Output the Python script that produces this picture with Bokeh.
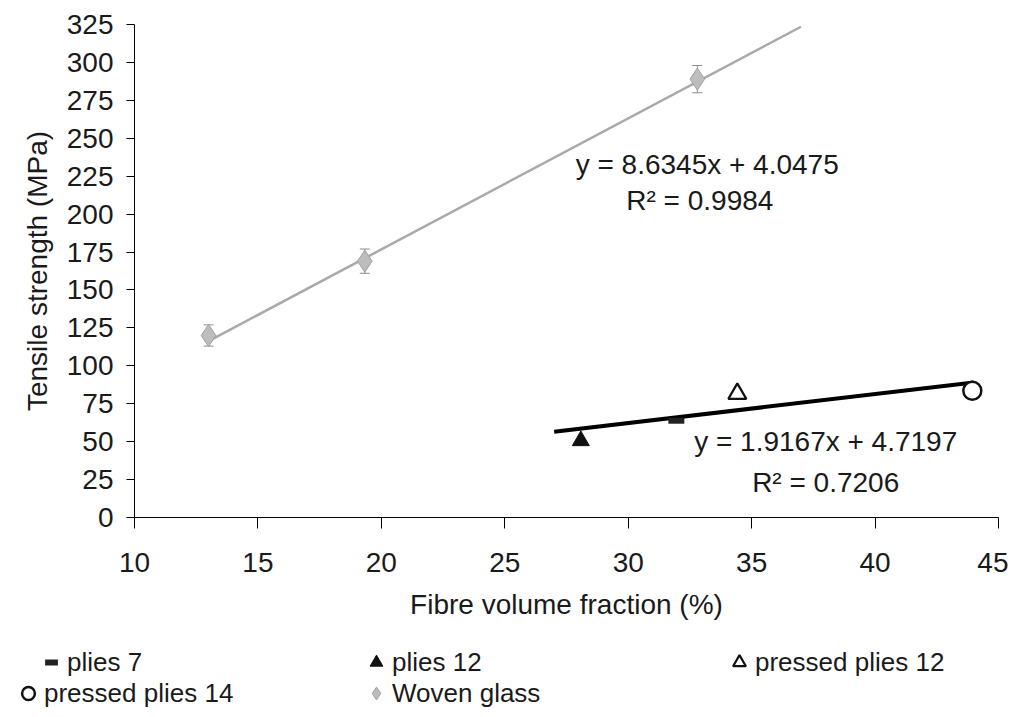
from bokeh.plotting import figure
from bokeh.layouts import column
from bokeh.models import (Range1d, FixedTicker, Label, Legend, LegendItem, Title,
                          Whisker, ColumnDataSource, TeeHead)
from bokeh.embed import file_html
from bokeh.resources import INLINE

# ---------------- data ----------------
x_ticks = [10, 15, 20, 25, 30, 35, 40, 45]
y_ticks = [0, 25, 50, 75, 100, 125, 150, 175, 200, 225, 250, 275, 300, 325]

woven_x = [13.0, 19.33, 32.8]
woven_y = [120.0, 169.0, 289.0]
woven_err = [7.0, 8.0, 9.0]

plies7_x = [31.95]
plies7_y = [63.8]
plies12_x = [28.08]
plies12_y = [50.6]
pressed12_x = [34.42]
pressed12_y = [81.6]
pressed14_x = [43.94]
pressed14_y = [83.6]

woven_slope, woven_icpt = 8.6345, 4.0475
woven_fit_x = [13.0, 37.0]
nat_slope, nat_icpt = 1.9167, 4.7197
nat_fit_x = [27.0, 44.0]

woven_eq = ["y = 8.6345x + 4.0475", "R\u00b2 = 0.9984"]
nat_eq = ["y = 1.9167x + 4.7197", "R\u00b2 = 0.7206"]

legend_labels = ["plies 7", "plies 12", "pressed plies 12", "pressed plies 14", "Woven glass"]

FONT = "Liberation Sans"
FS = "28px"
LFS = "26px"
TXT = "#1a1a1a"

# ---------------- styles ----------------
sty_p7 = dict(marker="dash", size=16, line_width=6, line_color="#222222")
sty_p12 = dict(marker="triangle", size=17, fill_color="#111111", line_color="#111111")
sty_pp12 = dict(marker="triangle", size=18, fill_color="white", line_color="#111111", line_width=2.2)
sty_pp14 = dict(marker="circle", size=18, fill_color="white", line_color="#111111", line_width=2.5)
sty_wov = dict(marker="diamond", size=22, fill_color="#bdbdbd", line_color="#a0a0a0", line_width=1)

p = figure(width=1008, height=630, output_backend="svg", toolbar_location=None,
           x_range=Range1d(10, 45), y_range=Range1d(0, 325),
           min_border_left=134, min_border_right=10, min_border_top=24,
           min_border_bottom=113)
p.frame_align = False
p.outline_line_color = None
p.xgrid.visible = False
p.ygrid.visible = False

for ax, ticks in ((p.xaxis[0], x_ticks), (p.yaxis[0], y_ticks)):
    ax.ticker = FixedTicker(ticks=ticks)
    ax.major_tick_in = 0
    ax.minor_tick_line_color = None
    ax.axis_line_color = "black"
    ax.major_tick_line_color = "black"
    ax.major_label_text_font = FONT
    ax.major_label_text_font_size = FS
    ax.major_label_text_color = TXT
    ax.axis_label_text_font = FONT
    ax.axis_label_text_font_size = FS
    ax.axis_label_text_font_style = "normal"
    ax.axis_label_text_color = TXT

p.xaxis.major_tick_out = 11
p.xaxis.major_label_standoff = 24
p.xaxis.axis_label = "Fibre volume fraction (%)"
p.xaxis.axis_label_standoff = 14
p.yaxis.major_tick_out = 8
p.yaxis.major_label_standoff = 13

p.add_layout(Title(text="Tensile strength (MPa)", align="center", offset=48,
                   standoff=22, text_font=FONT, text_font_size=FS,
                   text_font_style="normal", text_color=TXT), "left")

# ---------------- trend lines ----------------
p.line(woven_fit_x, [woven_slope * x + woven_icpt for x in woven_fit_x],
       line_color="#a9a9a9", line_width=2.5)
p.line(nat_fit_x, [nat_slope * x + nat_icpt for x in nat_fit_x],
       line_color="black", line_width=4)

# ---------------- error bars ----------------
src = ColumnDataSource(dict(x=woven_x, y=woven_y,
                            up=[y + e for y, e in zip(woven_y, woven_err)],
                            lo=[y - e for y, e in zip(woven_y, woven_err)]))
p.add_layout(Whisker(source=src, base="x", upper="up", lower="lo",
                     line_color="#8c8c8c", line_width=1,
                     upper_head=TeeHead(size=10, line_color="#8c8c8c"),
                     lower_head=TeeHead(size=10, line_color="#8c8c8c")))

# ---------------- markers ----------------
series = [(plies7_x, plies7_y, sty_p7), (plies12_x, plies12_y, sty_p12),
          (pressed12_x, pressed12_y, sty_pp12), (pressed14_x, pressed14_y, sty_pp14),
          (woven_x, woven_y, sty_wov)]
for sx, sy, s in series:
    p.scatter(sx, sy, **s)

# ---------------- equations ----------------
for txt, (lx, ly) in zip(woven_eq, [(33.2, 233), (32.9, 209)]):
    p.add_layout(Label(x=lx, y=ly, text=txt, text_align="center",
                       text_baseline="middle", text_font=FONT,
                       text_font_size=FS, text_color=TXT))
for txt, (lx, ly) in zip(nat_eq, [(38.0, 50), (38.0, 23)]):
    p.add_layout(Label(x=lx, y=ly, text=txt, text_align="center",
                       text_baseline="middle", text_font=FONT,
                       text_font_size=FS, text_color=TXT))

# ---------------- legend strip below (own plot, same series styles) ----------------
lg = figure(width=1008, height=79, output_backend="svg", toolbar_location=None,
            x_range=Range1d(-2, -1), y_range=Range1d(-2, -1),
            x_axis_type=None, y_axis_type=None, min_border=0)
lg.frame_align = False
lg.outline_line_color = None
lg_renderers = [lg.scatter(sx, sy, **s) for sx, sy, s in series]
positions = [(35, 31), (360, 31), (723, 31), (12, 0), (360, 0)]
for lab, r, loc in zip(legend_labels, lg_renderers, positions):
    leg = Legend(items=[LegendItem(label=lab, renderers=[r])], location=loc,
                 glyph_width=32, glyph_height=32, label_height=28,
                 label_standoff=0, padding=0, margin=0, spacing=0,
                 border_line_color=None, background_fill_alpha=0,
                 label_text_font=FONT, label_text_font_size=LFS,
                 label_text_color=TXT)
    lg.add_layout(leg, "center")

layout = column(p, lg, spacing=0)
open("out.html", "w").write(file_html(layout, INLINE))
